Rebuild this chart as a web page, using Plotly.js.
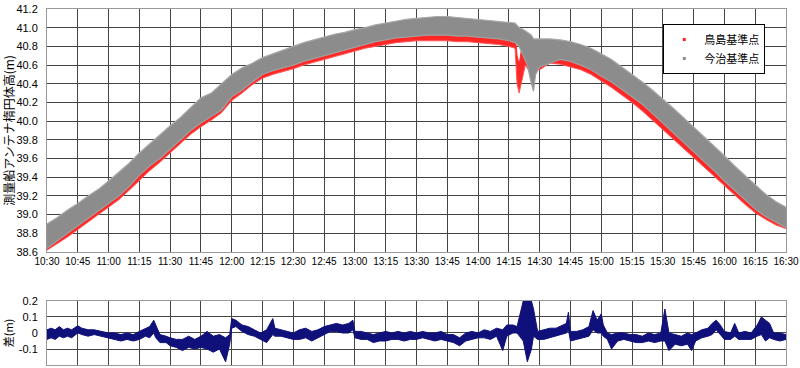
<!DOCTYPE html>
<html><head><meta charset="utf-8">
<script src="https://cdn.plot.ly/plotly-3.0.1.min.js"></script>
<style>html,body{margin:0;padding:0;background:#fff}#chart{width:800px;height:368px}</style>
</head><body><div id="chart"></div>
<script>
// ---- Data ----
// 今治基準点 (gray) envelope
const grayTime = ["10:30","10:35","10:40","10:45","10:50","10:55","11:00","11:05","11:10","11:15","11:20","11:25","11:30","11:35","11:40","11:45","11:50","11:55","12:00","12:05","12:10","12:15","12:20","12:25","12:30","12:35","12:40","12:45","12:50","12:55","13:00","13:05","13:10","13:15","13:20","13:25","13:30","13:35","13:40","13:45","13:50","13:55","14:00","14:05","14:10","14:15","14:18","14:20","14:22","14:24","14:26","14:27","14:28","14:30","14:35","14:40","14:45","14:50","14:55","15:00","15:05","15:10","15:15","15:20","15:25","15:30","15:35","15:40","15:45","15:50","15:55","16:00","16:05","16:10","16:15","16:20","16:25","16:30"];
const grayUpper = [38.90,38.97,39.05,39.12,39.20,39.27,39.36,39.45,39.55,39.66,39.76,39.86,39.95,40.04,40.15,40.25,40.30,40.40,40.50,40.57,40.62,40.68,40.72,40.76,40.80,40.84,40.87,40.90,40.93,40.95,40.98,41.00,41.03,41.05,41.07,41.09,41.10,41.11,41.12,41.12,41.11,41.10,41.09,41.08,41.07,41.06,41.05,41.00,40.98,40.95,40.92,40.88,40.88,40.88,40.88,40.87,40.85,40.82,40.78,40.72,40.66,40.58,40.50,40.42,40.33,40.24,40.14,40.04,39.94,39.84,39.74,39.63,39.52,39.42,39.32,39.22,39.14,39.08];
const grayLower = [38.64,38.72,38.80,38.88,38.96,39.04,39.12,39.20,39.30,39.42,39.52,39.60,39.70,39.80,39.90,39.98,40.05,40.12,40.26,40.33,40.42,40.50,40.54,40.57,40.60,40.64,40.67,40.70,40.73,40.76,40.79,40.82,40.85,40.87,40.89,40.90,40.91,40.92,40.92,40.92,40.91,40.91,40.90,40.89,40.88,40.86,40.84,40.80,40.70,40.60,40.40,40.32,40.50,40.58,40.62,40.66,40.64,40.60,40.55,40.48,40.42,40.34,40.26,40.18,40.08,39.98,39.88,39.78,39.68,39.58,39.47,39.36,39.26,39.16,39.06,38.98,38.92,38.86];
// 鳥島基準点 (red) envelope
const redTime = ["10:30","10:35","10:40","10:45","10:50","10:55","11:00","11:05","11:10","11:15","11:20","11:25","11:30","11:35","11:40","11:45","11:50","11:55","12:00","12:05","12:10","12:15","12:20","12:25","12:30","12:35","12:40","12:45","12:50","12:55","13:00","13:05","13:10","13:15","13:20","13:25","13:30","13:35","13:40","13:45","13:50","13:55","14:00","14:05","14:10","14:15","14:18","14:19","14:20","14:21","14:23","14:26","14:28","14:30","14:35","14:40","14:45","14:50","14:55","15:00","15:05","15:10","15:15","15:20","15:25","15:30","15:35","15:40","15:45","15:50","15:55","16:00","16:05","16:10","16:15","16:20","16:25","16:30"];
const redUpper = [38.80,38.86,38.93,39.00,39.08,39.15,39.24,39.32,39.42,39.52,39.62,39.72,39.82,39.92,40.02,40.12,40.18,40.28,40.38,40.46,40.52,40.58,40.62,40.66,40.70,40.74,40.77,40.80,40.83,40.86,40.89,40.91,40.93,40.95,40.97,40.98,40.99,41.00,41.00,41.00,40.99,40.98,40.97,40.96,40.95,40.94,40.93,40.70,40.60,40.75,40.90,40.85,40.80,40.80,40.80,40.78,40.75,40.72,40.68,40.62,40.56,40.48,40.40,40.32,40.22,40.13,40.03,39.93,39.83,39.73,39.62,39.52,39.42,39.32,39.22,39.13,39.06,39.00];
const redLower = [38.62,38.69,38.76,38.84,38.92,39.00,39.08,39.16,39.26,39.37,39.47,39.56,39.66,39.76,39.86,39.94,40.01,40.09,40.22,40.30,40.39,40.46,40.50,40.53,40.56,40.60,40.63,40.66,40.69,40.72,40.75,40.78,40.80,40.82,40.84,40.85,40.86,40.86,40.86,40.86,40.85,40.85,40.84,40.83,40.82,40.80,40.78,40.40,40.30,40.40,40.60,40.50,40.55,40.55,40.62,40.61,40.58,40.55,40.50,40.43,40.36,40.28,40.20,40.11,40.01,39.91,39.81,39.71,39.61,39.51,39.41,39.30,39.20,39.11,39.02,38.95,38.89,38.85];
// 差 (bottom panel) envelope
const diffTime = ["10:30","10:32","10:34","10:36","10:38","10:40","10:42","10:44","10:45","10:47","10:50","10:53","10:56","11:00","11:03","11:06","11:09","11:12","11:15","11:18","11:20","11:22","11:23","11:25","11:28","11:30","11:33","11:36","11:39","11:42","11:45","11:48","11:51","11:54","11:57","11:59","12:00","12:02","12:05","12:08","12:11","12:14","12:17","12:20","12:21","12:24","12:27","12:30","12:33","12:36","12:39","12:42","12:45","12:48","12:51","12:54","12:57","12:59","13:00","13:03","13:06","13:09","13:12","13:15","13:18","13:21","13:24","13:27","13:30","13:33","13:36","13:39","13:42","13:45","13:48","13:51","13:54","13:57","14:00","14:03","14:06","14:09","14:12","14:14","14:17","14:19","14:22","14:24","14:26","14:27","14:29","14:32","14:35","14:38","14:41","14:43","14:44","14:45","14:48","14:51","14:54","14:56","14:58","15:00","15:01","15:03","15:05","15:08","15:11","15:14","15:17","15:20","15:23","15:26","15:29","15:31","15:33","15:36","15:39","15:42","15:44","15:46","15:49","15:52","15:54","15:56","15:58","16:00","16:03","16:05","16:07","16:10","16:13","16:16","16:18","16:20","16:22","16:24","16:27","16:30"];
const diffUpper = [0.02,0.03,0.02,0.04,0.02,0.03,0.02,0.04,0.045,0.03,0.02,0.02,0.01,0.00,0.00,-0.01,0.00,-0.01,0.01,0.03,0.04,0.08,0.05,-0.01,-0.02,-0.03,-0.04,-0.04,-0.02,-0.04,-0.02,0.01,-0.02,-0.01,-0.03,-0.01,0.09,0.08,0.05,0.04,0.02,0.00,0.02,0.09,0.03,0.02,0.01,0.00,0.02,0.03,0.01,0.02,0.04,0.05,0.06,0.05,0.06,0.08,0.01,0.01,0.00,-0.01,0.00,0.01,0.00,0.01,0.00,0.01,0.00,0.01,0.00,0.00,0.01,-0.01,-0.01,-0.03,0.00,0.01,0.00,0.02,0.01,0.03,0.02,0.05,0.05,0.04,0.20,0.20,0.20,0.15,0.01,0.02,0.03,0.03,0.05,0.06,0.13,0.01,0.01,0.02,0.04,0.14,0.08,0.12,0.05,0.00,-0.01,0.00,0.00,-0.01,-0.01,-0.02,0.00,-0.01,0.00,0.15,0.00,-0.01,-0.02,0.00,-0.01,0.00,0.02,0.03,0.06,0.08,0.05,0.01,0.00,0.06,0.00,0.01,0.00,0.05,0.10,0.08,0.06,0.00,0.00,-0.01];
const diffLower = [-0.04,-0.03,-0.04,-0.02,-0.03,-0.02,-0.03,-0.01,0.00,-0.01,-0.02,-0.01,-0.02,-0.03,-0.04,-0.05,-0.04,-0.05,-0.04,-0.02,-0.03,0.00,-0.03,-0.06,-0.06,-0.08,-0.09,-0.11,-0.09,-0.10,-0.09,-0.10,-0.12,-0.10,-0.18,-0.07,0.03,0.04,0.01,-0.01,-0.02,-0.04,-0.06,-0.01,-0.02,-0.02,-0.03,-0.04,-0.04,-0.03,-0.05,-0.03,-0.01,0.01,0.01,0.00,0.00,0.02,-0.03,-0.04,-0.04,-0.06,-0.05,-0.05,-0.04,-0.04,-0.05,-0.04,-0.04,-0.03,-0.04,-0.05,-0.04,-0.05,-0.06,-0.08,-0.05,-0.04,-0.03,-0.03,-0.04,-0.02,-0.11,-0.02,0.00,0.00,-0.05,-0.18,-0.10,-0.02,-0.04,-0.04,-0.03,-0.02,-0.01,0.00,0.02,-0.05,-0.04,-0.03,-0.02,0.02,0.00,0.00,-0.02,-0.04,-0.10,-0.05,-0.04,-0.05,-0.06,-0.06,-0.05,-0.06,-0.05,-0.05,-0.11,-0.07,-0.08,-0.07,-0.11,-0.05,-0.03,-0.02,-0.01,0.02,-0.01,-0.04,-0.04,-0.02,-0.04,-0.04,-0.04,-0.02,-0.01,-0.05,-0.03,-0.04,-0.05,-0.04];
const xTickStart = "10:30", xTickEnd = "16:30";
const seriesNames = ["鳥島基準点", "今治基準点"];
const yTitleTop = "測量船アンテナ楕円体高(m)";
const yTitleBottom = "差(m)";
const diffTickVals = [-0.2,-0.1,0,0.1,0.2];
const diffTickText = ["-0.2","-0.1","0","0.1","0.2"];

// ---- build ----
const D = t => "2024-01-01 " + t;
const gx = grayTime.map(D), rx = redTime.map(D), dx = diffTime.map(D);
const RED = "#ff2626", GRAY = "#8c8c8c", NAVY = "#10107a";
const traces = [
  {x: rx, y: redLower, xaxis:"x", yaxis:"y", mode:"lines", line:{color:"#ff5a5a", width:1}, showlegend:false, hoverinfo:"skip"},
  {x: rx, y: redUpper, xaxis:"x", yaxis:"y", mode:"lines", line:{color:RED, width:1}, fill:"tonexty", fillcolor:RED, showlegend:false, hoverinfo:"skip"},
  {x: gx, y: grayLower, xaxis:"x", yaxis:"y", mode:"lines", line:{color:"#a0a0a0", width:1.2}, showlegend:false, hoverinfo:"skip"},
  {x: gx, y: grayUpper, xaxis:"x", yaxis:"y", mode:"lines", line:{color:"#a8a8a8", width:1.2}, fill:"tonexty", fillcolor:GRAY, showlegend:false, hoverinfo:"skip"},
  {x: dx, y: diffLower, xaxis:"x2", yaxis:"y2", mode:"lines", line:{color:NAVY, width:1}, showlegend:false, hoverinfo:"skip"},
  {x: dx, y: diffUpper, xaxis:"x2", yaxis:"y2", mode:"lines", line:{color:NAVY, width:1}, fill:"tonexty", fillcolor:NAVY, showlegend:false, hoverinfo:"skip"},
  {x:[null], y:[null], xaxis:"x", yaxis:"y", mode:"markers", name: seriesNames[0], marker:{color:RED, size:3, symbol:"square"}},
  {x:[null], y:[null], xaxis:"x", yaxis:"y", mode:"markers", name: seriesNames[1], marker:{color:GRAY, size:3, symbol:"square"}}
];
const grid = "#444";
const tickFont = {family:"Liberation Sans, Arial, sans-serif", size:10, color:"#000"};
const xCommon = {type:"date", range:[D(xTickStart), D(xTickEnd)], dtick:900000, tickformat:"%H:%M",
  showgrid:true, gridcolor:grid, gridwidth:1, showline:true, mirror:true, linecolor:"#999", linewidth:1,
  ticks:"", zeroline:false, tickfont:tickFont, fixedrange:true};
const layout = {
  width:800, height:368,
  margin:{l:47, r:14, t:9, b:3},
  paper_bgcolor:"#fff", plot_bgcolor:"#fff",
  showlegend:true,
  legend:{x:0.972, xanchor:"right", y:0.958, yanchor:"top", bgcolor:"#fff", bordercolor:"#000", borderwidth:1,
    traceorder:"normal", font:{family:"Noto Sans CJK JP", size:11, color:"#000"}, tracegroupgap:0, itemwidth:30},
  xaxis: Object.assign({}, xCommon, {anchor:"y", domain:[0,1], showticklabels:true}),
  xaxis2: Object.assign({}, xCommon, {anchor:"y2", domain:[0,1], showticklabels:false}),
  yaxis: {domain:[0.3174,1], range:[38.6,41.2], dtick:0.2, tickformat:".1f", showgrid:true, gridcolor:grid,
    showline:true, mirror:true, linecolor:"#999", ticks:"", zeroline:false, ticklabelstandoff:6,
    tickfont:{family:"Liberation Sans, Arial, sans-serif", size:11, color:"#000"},
    title:{text:yTitleTop, font:{family:"Noto Sans CJK JP", size:12, color:"#000"}, standoff:3}},
  yaxis2: {domain:[0,0.1798], range:[-0.2,0.2], tickvals:diffTickVals, ticktext:diffTickText, showgrid:true, gridcolor:grid,
    showline:true, mirror:true, linecolor:"#999", ticks:"", zeroline:false, ticklabelstandoff:6,
    tickfont:{family:"Liberation Sans, Arial, sans-serif", size:11, color:"#000"},
    title:{text:yTitleBottom, font:{family:"Noto Sans CJK JP", size:11, color:"#000"}, standoff:3}}
};
Plotly.newPlot("chart", traces, layout, {staticPlot:true, displayModeBar:false});
</script></body></html>
